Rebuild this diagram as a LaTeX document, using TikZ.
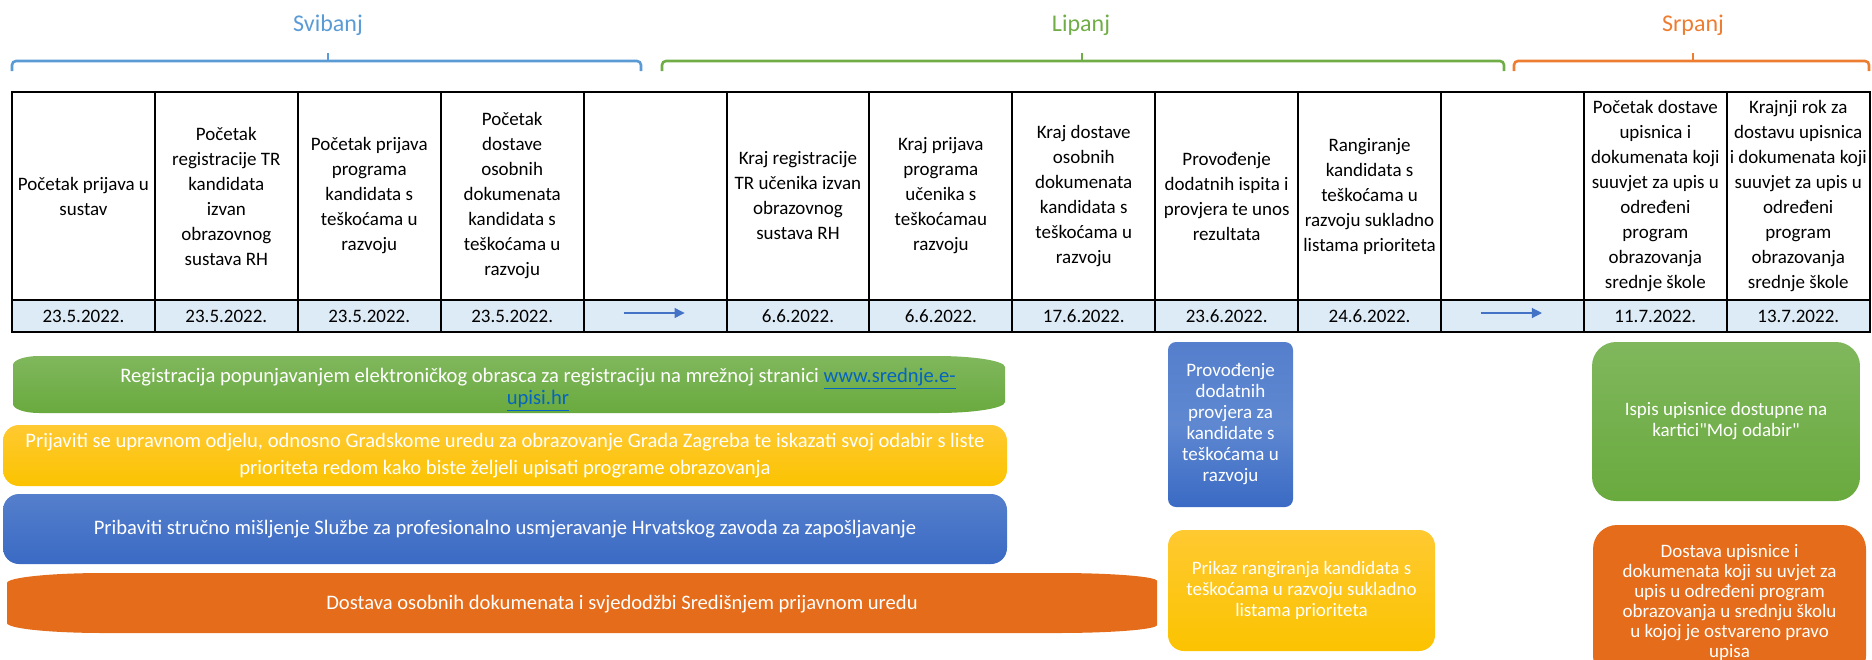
\documentclass[tikz,border=0pt]{standalone}
\usepackage{fontspec}
\setmainfont{Carlito}[Ligatures=TeXOff]
\usetikzlibrary{positioning,arrows.meta}

\definecolor{svibanjc}{HTML}{5B9BD5}
\definecolor{lipanjc}{HTML}{70AD47}
\definecolor{srpanjc}{HTML}{ED7D31}
\definecolor{datefill}{HTML}{DDEBF7}
\definecolor{arrowc}{HTML}{4472C4}
\definecolor{linkc}{HTML}{0563C1}
\definecolor{gtop}{HTML}{80B75D}
\definecolor{gbot}{HTML}{69AA3E}
\definecolor{ytop}{HTML}{FFC931}
\definecolor{ybot}{HTML}{FBC300}
\definecolor{btop}{HTML}{557FCC}
\definecolor{bmid}{HTML}{5F88D1}
\definecolor{bbot}{HTML}{3A6AC4}
\definecolor{obar}{HTML}{E46C1A}

\tikzset{
  month/.style={font=\fontsize{12}{14}\selectfont, text=#1},
  monthbrace/.style={draw=#1, line width=1.3pt, rounded corners=2pt},
  hcell/.style={draw, line width=1pt, outer sep=0pt, inner sep=0pt,
    minimum width=71.45pt, minimum height=104pt, align=center,
    font=\fontsize{9.5}{12.5}\selectfont},
  dcell/.style={hcell, fill=datefill, minimum height=16pt},
  dayarrow/.style={draw=arrowc, line width=0.6pt, -{Triangle[length=5pt,width=5pt]}},
  bar/.style={rounded corners=#1, outer sep=0pt, inner sep=0pt, text=white,
    align=center, font=\fontsize{10.3}{12.5}\selectfont},
  greenbox/.style={bar=#1, top color=gtop, bottom color=gbot},
  yellowbox/.style={bar=#1, top color=ytop, bottom color=ybot},
  bluebox/.style={bar=#1, top color=btop, bottom color=bbot},
  orangebox/.style={bar=#1, fill=obar},
  bartxt/.style={text=white, align=center, font=\fontsize{10.3}{11}\selectfont},
}

\begin{document}
\begin{tikzpicture}[x=0.5pt, y=-0.5pt]
    \useasboundingbox (0,0) rectangle (1872,659);

    % months
    \node[month=svibanjc] (svibanj) at (328,25)  {Svibanj};
    \node[month=lipanjc]  (lipanj)  at (1081,25) {Lipanj};
    \node[month=srpanjc]  (srpanj)  at (1693,25) {Srpanj};
    \draw[monthbrace=svibanjc] (12,71) -- (12,61) -- (641,61) -- (641,71);
    \draw[monthbrace=svibanjc] (328,61) -- (328,53);
    \draw[monthbrace=lipanjc] (662,71) -- (662,61) -- (1504,61) -- (1504,71);
    \draw[monthbrace=lipanjc] (1082,61) -- (1082,53);
    \draw[monthbrace=srpanjc] (1514,71) -- (1514,61) -- (1869,61) -- (1869,71);
    \draw[monthbrace=srpanjc] (1693,61) -- (1693,53);

    % table
    \node[hcell, anchor=north west] (h1) at (12,92) {Početak prijava u\\sustav};
    \node[hcell, right=0pt of h1]  (h2)  {Početak\\registracije TR\\kandidata\\izvan\\obrazovnog\\sustava RH};
    \node[hcell, right=0pt of h2]  (h3)  {Početak prijava\\programa\\kandidata s\\teškoćama u\\razvoju};
    \node[hcell, right=0pt of h3]  (h4)  {Početak\\dostave\\osobnih\\dokumenata\\kandidata s\\teškoćama u\\razvoju};
    \node[hcell, right=0pt of h4]  (h5)  {};
    \node[hcell, right=0pt of h5]  (h6)  {Kraj registracije\\TR učenika izvan\\obrazovnog\\sustava RH};
    \node[hcell, right=0pt of h6]  (h7)  {Kraj prijava\\programa\\učenika s\\teškoćamau\\razvoju};
    \node[hcell, right=0pt of h7]  (h8)  {Kraj dostave\\osobnih\\dokumenata\\kandidata s\\teškoćama u\\razvoju};
    \node[hcell, right=0pt of h8]  (h9)  {Provođenje\\dodatnih ispita i\\provjera te unos\\rezultata};
    \node[hcell, right=0pt of h9]  (h10) {Rangiranje\\kandidata s\\teškoćama u\\razvoju sukladno\\listama prioriteta};
    \node[hcell, right=0pt of h10] (h11) {};
    \node[hcell, right=0pt of h11] (h12) {Početak dostave\\upisnica i\\dokumenata koji\\suuvjet za upis u\\određeni\\program\\obrazovanja\\srednje škole};
    \node[hcell, right=0pt of h12] (h13) {Krajnji rok za\\dostavu upisnica\\i dokumenata koji\\suuvjet za upis u\\određeni\\program\\obrazovanja\\srednje škole};

    \node[dcell, below=0pt of h1]  (d1)  {23.5.2022.};
    \node[dcell, below=0pt of h2]  (d2)  {23.5.2022.};
    \node[dcell, below=0pt of h3]  (d3)  {23.5.2022.};
    \node[dcell, below=0pt of h4]  (d4)  {23.5.2022.};
    \node[dcell, below=0pt of h5]  (d5)  {};
    \node[dcell, below=0pt of h6]  (d6)  {6.6.2022.};
    \node[dcell, below=0pt of h7]  (d7)  {6.6.2022.};
    \node[dcell, below=0pt of h8]  (d8)  {17.6.2022.};
    \node[dcell, below=0pt of h9]  (d9)  {23.6.2022.};
    \node[dcell, below=0pt of h10] (d10) {24.6.2022.};
    \node[dcell, below=0pt of h11] (d11) {};
    \node[dcell, below=0pt of h12] (d12) {11.7.2022.};
    \node[dcell, below=0pt of h13] (d13) {13.7.2022.};

    \coordinate (a5from)  at ([xshift=-15.75pt, yshift=1.5pt]d5.center);
    \coordinate (a5to)    at ([xshift=14.75pt, yshift=1.5pt]d5.center);
    \coordinate (a11from) at ([xshift=-15.75pt, yshift=1.5pt]d11.center);
    \coordinate (a11to)   at ([xshift=14.75pt, yshift=1.5pt]d11.center);
    \draw[dayarrow] (a5from) -- (a5to);
    \draw[dayarrow] (a11from) -- (a11to);

    % bars
    \shade[top color=gtop, bottom color=gbot] (39,356) -- (937,356)
        arc[start angle=90, end angle=0, x radius=34pt, y radius=5.5pt] -- (1005,402)
        arc[start angle=0, end angle=-90, x radius=34pt, y radius=5.5pt] -- (39,413)
        arc[start angle=270, end angle=180, x radius=13pt, y radius=4.5pt] -- (13,365)
        arc[start angle=180, end angle=90, x radius=13pt, y radius=4.5pt] -- cycle;
    \node[bartxt] (regtxt) at (538,390) {Registracija popunjavanjem elektroničkog obrasca za registraciju na mrežnoj stranici \textcolor{linkc}{\underline{www.srednje.e-}}\\\textcolor{linkc}{\underline{upisi.hr}}};
    \node[yellowbox=8pt, minimum width=502pt, minimum height=30.5pt, font=\fontsize{10.3}{13.5}\selectfont] (prijbar) at (505,455.5)
        {Prijaviti se upravnom odjelu, odnosno Gradskome uredu za obrazovanje Grada Zagreba te iskazati svoj odabir s liste\\prioriteta redom kako biste željeli upisati programe obrazovanja};
    \node[bluebox=8pt, minimum width=502pt, minimum height=35pt] (mislbar) at (505,529)
        {Pribaviti stručno mišljenje Službe za profesionalno usmjeravanje Hrvatskog zavoda za zapošljavanje};
    \fill[obar] (104,573) -- (1057,573)
        arc[start angle=90, end angle=0, x radius=50pt, y radius=4pt] -- (1157,625)
        arc[start angle=0, end angle=-90, x radius=50pt, y radius=4pt] -- (104,633)
        arc[start angle=270, end angle=180, x radius=48.5pt, y radius=5pt] -- (7,583)
        arc[start angle=180, end angle=90, x radius=48.5pt, y radius=5pt] -- cycle;
    \node[bartxt] (dosttxt) at (622,604) {Dostava osobnih dokumenata i svjedodžbi Središnjem prijavnom uredu};

    % boxes
    \node[bluebox=4pt, middle color=bmid, minimum width=62.5pt, minimum height=82.5pt, font=\fontsize{9.5}{10.5}\selectfont] (provbox) at (1230.5,424.5)
        {Provođenje\\dodatnih\\provjera za\\kandidate s\\teškoćama u\\razvoju};
    \node[yellowbox=8pt, minimum width=133.5pt, minimum height=60.5pt, font=\fontsize{9.5}{10.5}\selectfont] (prikbox) at (1301.5,590.5)
        {Prikaz rangiranja kandidata s\\teškoćama u razvoju sukladno\\listama prioriteta};
    \node[greenbox=12pt, minimum width=134pt, minimum height=79.5pt, font=\fontsize{9.5}{10.5}\selectfont] (ispisbox) at (1726,421.5)
        {Ispis upisnice dostupne na\\kartici"Moj odabir"};
    \node[orangebox=12pt, minimum width=136.5pt, minimum height=77.5pt, font=\fontsize{9.5}{10}\selectfont] (upisbox) at (1729.5,602.5)
        {Dostava upisnice i\\dokumenata koji su uvjet za\\upis u određeni program\\obrazovanja u srednju školu\\u kojoj je ostvareno pravo\\upisa};
\end{tikzpicture}
\end{document}
